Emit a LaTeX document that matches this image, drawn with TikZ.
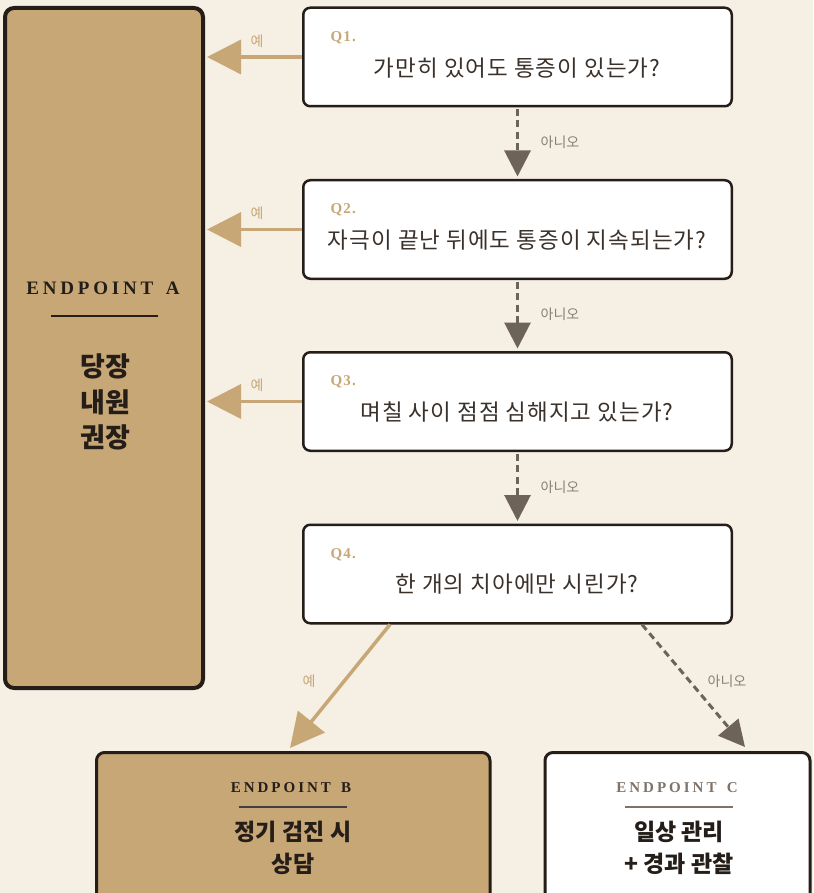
\documentclass[tikz,border=0pt]{standalone}
\usepackage{fontspec}
\usetikzlibrary{arrows.meta,calc}
\setmainfont{Liberation Serif}
\newfontfamily\kr{Noto Sans CJK KR}
\newfontfamily\krs[LetterSpace=4.5]{Noto Sans CJK KR}
\newfontfamily\hdr[LetterSpace=20]{Liberation Serif}
\newfontfamily\qser[LetterSpace=8]{Liberation Serif}
\definecolor{bg}{HTML}{F5EFE4}
\definecolor{gold}{HTML}{C8A777}
\definecolor{dark}{HTML}{241D18}
\definecolor{brown}{HTML}{6E6358}
\definecolor{qtext}{HTML}{3A312B}
\definecolor{lbl}{HTML}{8A7F75}
\definecolor{cgray}{HTML}{7F7368}
\tikzset{
  qbox/.style={draw=dark, line width=2.5pt, fill=white, rounded corners=7pt,
    minimum width=428.5pt, minimum height=98.5pt, inner sep=0pt},
  qlabel/.style={anchor=west, text=gold, font=\qser\fontsize{15}{15}\selectfont\bfseries},
  qtxt/.style={text=qtext, font=\krs\fontsize{22.5}{22.5}\selectfont},
  yesline/.style={draw=gold, line width=3.5pt, -{Triangle[length=34pt,width=34pt]}},
  noline/.style={draw=brown, line width=3pt, dash pattern=on 7pt off 4.5pt,
    -{Triangle[length=26pt,width=26pt]}},
  yeslbl/.style={text=gold, font=\kr\fontsize{14}{14}\selectfont},
  nolbl/.style={text=lbl, font=\kr\fontsize{14}{14}\selectfont},
  endtxt/.style={text=dark, font=\kr\fontsize{23}{23}\selectfont\bfseries},
  atxt/.style={text=dark, font=\kr\fontsize{27}{27}\selectfont\bfseries},
}
\begin{document}
\begin{tikzpicture}[x=1pt,y=-1pt]
\fill[bg] (0,0) rectangle (813,893);
\useasboundingbox (0,0) rectangle (813,893);

% Endpoint A
\node[draw=dark, line width=4pt, fill=gold, rounded corners=9pt,
  minimum width=198pt, minimum height=680pt, inner sep=0pt] (epa) at (104,348) {};
\node[text=dark, font=\hdr\fontsize{19}{19}\selectfont\bfseries] (epahdr) at (103,288) {ENDPOINT\hspace{4pt} A};
\coordinate (al1) at (51,316);
\coordinate (al2) at (158,316);
\draw[dark, line width=1.6pt] (al1) -- (al2);
\node[atxt] (a1) at (105,366) {당장};
\node[atxt] (a2) at (105,402) {내원};
\node[atxt] (a3) at (105,437) {권장};

% Question boxes
\node[qbox] (q1) at (517.5,57) {};
\node[qbox] (q2) at (517.5,229.5) {};
\node[qbox] (q3) at (517.5,401.5) {};
\node[qbox] (q4) at (517.5,574) {};

\node[qlabel] (q1l) at (327,38) {Q1.};
\node[qlabel] (q2l) at (327,210) {Q2.};
\node[qlabel] (q3l) at (327,382) {Q3.};
\node[qlabel] (q4l) at (327,555) {Q4.};

\node[qtxt] (q1t) at (517,68) {가만히 있어도 통증이 있는가?};
\node[qtxt] (q2t) at (517,240) {자극이 끝난 뒤에도 통증이 지속되는가?};
\node[qtxt] (q3t) at (517,412) {며칠 사이 점점 심해지고 있는가?};
\node[qtxt] (q4t) at (517,584) {한 개의 치아에만 시린가?};

% Yes arrows to A
\draw[yesline, shorten >=2pt] (q1.west) -- (q1.west -| epa.east);
\draw[yesline, shorten >=2pt] (q2.west) -- (q2.west -| epa.east);
\draw[yesline, shorten >=2pt] (q3.west) -- (q3.west -| epa.east);
\node[yeslbl] (y1) at (257,41) {예};
\node[yeslbl] (y2) at (257,213) {예};
\node[yeslbl] (y3) at (257,385) {예};

% No arrows
\draw[noline, shorten <=1.5pt, shorten >=2.5pt] (q1.south) -- (q2.north);
\draw[noline, shorten <=1.5pt, shorten >=2.5pt] (q2.south) -- (q3.north);
\draw[noline, shorten <=1.5pt, shorten >=2.5pt] (q3.south) -- (q4.north);
\node[nolbl] (n1) at (560,142) {아니오};
\node[nolbl] (n2) at (560,314) {아니오};
\node[nolbl] (n3) at (560,487) {아니오};

% Endpoint B and C
\node[draw=dark, line width=3pt, fill=gold, rounded corners=8pt,
  minimum width=393.5pt, minimum height=200pt, inner sep=0pt] (epb) at (293.25,852.5) {};
\node[draw=dark, line width=3pt, fill=white, rounded corners=8pt,
  minimum width=265pt, minimum height=200pt, inner sep=0pt] (epc) at (677.5,852.5) {};

\node[text=dark, font=\hdr\fontsize{15}{15}\selectfont\bfseries] (ebhdr) at (291,788) {ENDPOINT\hspace{3.5pt} B};
\coordinate (bl1) at (239,807);
\coordinate (bl2) at (347,807);
\draw[dark!85, line width=1.2pt] (bl1) -- (bl2);
\node[endtxt] (b1) at (293,832) {정기 검진 시};
\node[endtxt] (b2) at (293,864) {상담};

\node[text=cgray, font=\hdr\fontsize{15}{15}\selectfont\bfseries] (echdr) at (677,788) {ENDPOINT\hspace{3.5pt} C};
\coordinate (cl1) at (625,807);
\coordinate (cl2) at (733,807);
\draw[cgray, line width=1.2pt] (cl1) -- (cl2);
\node[endtxt] (c1) at (679,832) {일상 관리};
\node[endtxt] (c2) at (679,864) {+ 경과 관찰};

% Q4 branches
\coordinate (q4ys) at ($(q4.south west)+(88,0)$);
\coordinate (q4ns) at ($(q4.south west)+(340,0)$);
\coordinate (byes) at (290,748);
\coordinate (cno) at (745,747);
\draw[yesline] (q4ys) -- (byes);
\draw[noline] (q4ns) -- (cno);
\node[yeslbl] (y4) at (309,681) {예};
\node[nolbl] (n4) at (727,681) {아니오};
\end{tikzpicture}
\end{document}
